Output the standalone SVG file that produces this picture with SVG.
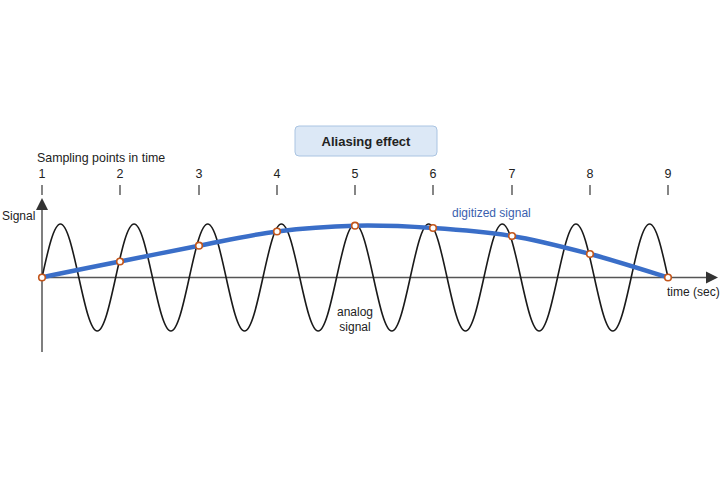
<svg xmlns="http://www.w3.org/2000/svg" width="720" height="480" viewBox="0 0 720 480">
<style>
text{font-family:"Liberation Sans",Arial,sans-serif;font-size:12px;fill:#222}
.ax{stroke:#555;stroke-width:1.5;fill:none}
.tick{stroke:#444;stroke-width:1.3}
.num{text-anchor:middle;font-size:12.5px}
.dot{fill:#fff;stroke:#c2561c;stroke-width:1.6}
</style>
<rect width="720" height="480" fill="#fff"/>
<g id="title">
<rect x="295" y="126" width="142" height="30" rx="4" fill="#dce8f6" stroke="#aac4e2" stroke-width="1"/>
<text x="366" y="146" text-anchor="middle" font-weight="bold" style="font-size:13px">Aliasing effect</text>
</g>
<g id="sampling-label"><text x="37" y="162" style="font-size:12.4px">Sampling points in time</text></g>
<g id="ticks">
<line class="tick" x1="42" y1="185" x2="42" y2="195"/><text class="num" x="42" y="178">1</text>
<line class="tick" x1="120" y1="185" x2="120" y2="195"/><text class="num" x="120" y="178">2</text>
<line class="tick" x1="199" y1="185" x2="199" y2="195"/><text class="num" x="199" y="178">3</text>
<line class="tick" x1="277" y1="185" x2="277" y2="195"/><text class="num" x="277" y="178">4</text>
<line class="tick" x1="355" y1="185" x2="355" y2="195"/><text class="num" x="355" y="178">5</text>
<line class="tick" x1="433" y1="185" x2="433" y2="195"/><text class="num" x="433" y="178">6</text>
<line class="tick" x1="512" y1="185" x2="512" y2="195"/><text class="num" x="512" y="178">7</text>
<line class="tick" x1="590" y1="185" x2="590" y2="195"/><text class="num" x="590" y="178">8</text>
<line class="tick" x1="668" y1="185" x2="668" y2="195"/><text class="num" x="668" y="178">9</text>
</g>
<g id="axes">
<line class="ax" x1="42" y1="277.5" x2="708" y2="277.5"/>
<polygon points="718,277.5 706,271.5 706,283.5" fill="#333"/>
<line class="ax" x1="42" y1="352" x2="42" y2="208"/>
<polygon points="42,198 36,210 48,210" fill="#333"/>
<text x="2" y="220">Signal</text>
<text x="667" y="296">time (sec)</text>
</g>
<g id="analog-signal">
<path fill="none" stroke="#1a1a1a" stroke-width="1.6" d="M42,277.5 c6.005,-27.41 11.748,-53.5 18.412,-53.5 s12.407,26.09 18.412,53.5
s11.748,53.5 18.412,53.5 s12.407,-26.09 18.412,-53.5 s11.748,-53.5 18.412,-53.5 s12.407,26.09 18.412,53.5
s11.748,53.5 18.412,53.5 s12.407,-26.09 18.412,-53.5 s11.748,-53.5 18.412,-53.5 s12.407,26.09 18.412,53.5
s11.748,53.5 18.412,53.5 s12.407,-26.09 18.412,-53.5 s11.748,-53.5 18.412,-53.5 s12.407,26.09 18.412,53.5
s11.748,53.5 18.412,53.5 s12.407,-26.09 18.412,-53.5 s11.748,-53.5 18.412,-53.5 s12.407,26.09 18.412,53.5
s11.748,53.5 18.412,53.5 s12.407,-26.09 18.412,-53.5 s11.748,-53.5 18.412,-53.5 s12.407,26.09 18.412,53.5
s11.748,53.5 18.412,53.5 s12.407,-26.09 18.412,-53.5 s11.748,-53.5 18.412,-53.5 s12.407,26.09 18.412,53.5
s11.748,53.5 18.412,53.5 s12.407,-26.09 18.412,-53.5 s11.748,-53.5 18.412,-53.5 s12.407,26.09 18.412,53.5
s11.748,53.5 18.412,53.5 s12.407,-26.09 18.412,-53.5 s11.748,-53.5 18.412,-53.5 s12.407,26.09 18.412,53.5"/>
<text x="355" y="316" text-anchor="middle">analog</text>
<text x="355" y="331" text-anchor="middle">signal</text>
</g>
<g id="digitized-signal">
<path fill="none" stroke="#3a6ec8" stroke-width="4.5" stroke-linecap="round" d="M42,277.5 C55,274.4 93.8,266.7 120,261.5 C146.2,256.3 172.8,250.7 199,245.7 C225.2,240.7 251,234.8 277,231.5 C303,228.2 329,226.3 355,225.7 C381,225.1 406.8,226.3 433,228 C459.2,229.7 485.8,231.7 512,236 C538.2,240.3 564,247.2 590,254 C616,260.8 655,273.5 668,277.5"/>
<text x="452" y="217" style="fill:#3a5fae">digitized signal</text>
</g>
<g id="samples">
<circle class="dot" cx="42" cy="277.5" r="3.3"/>
<circle class="dot" cx="120" cy="261.5" r="3.3"/>
<circle class="dot" cx="199" cy="245.7" r="3.3"/>
<circle class="dot" cx="277" cy="231.5" r="3.3"/>
<circle class="dot" cx="355" cy="225.7" r="3.3"/>
<circle class="dot" cx="433" cy="228" r="3.3"/>
<circle class="dot" cx="512" cy="236" r="3.3"/>
<circle class="dot" cx="590" cy="254" r="3.3"/>
<circle class="dot" cx="668" cy="277.5" r="3.3"/>
</g>
</svg>
